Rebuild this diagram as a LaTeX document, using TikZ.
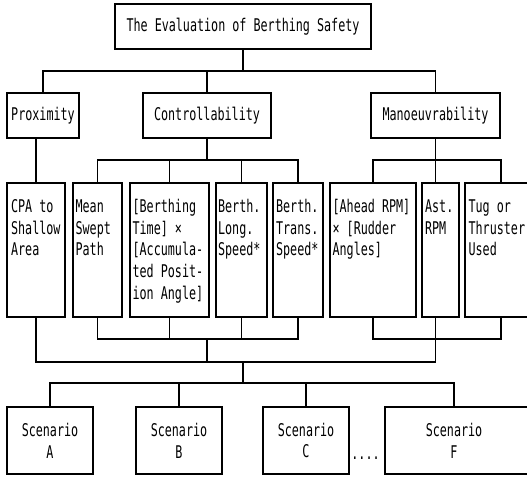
\documentclass[tikz,border=0pt]{standalone}
\usepackage{fontspec}
\newfontfamily\diafont[FakeStretch=0.67]{DejaVu Sans Mono}
\usetikzlibrary{calc}
\begin{document}
\begin{tikzpicture}[x=1pt,y=-1pt,
  every node/.style={font=\diafont\fontsize{17.5}{21.7}\selectfont},
  topbox/.style={draw, line width=1.2pt, inner sep=0pt, minimum height=45pt},
  tallbox/.style={draw, line width=1.2pt, inner sep=0pt, minimum height=134pt},
  scenbox/.style={draw, line width=1.2pt, inner sep=0pt, minimum height=67pt, align=center},
  boxtext/.style={anchor=base west, inner sep=0pt},
  wire/.style={line width=1.2pt}]
\useasboundingbox (0,0) rectangle (527,477);
\clip (0,0) rectangle (527,477);
% top levels
\node[topbox, minimum width=256pt] (title) at (243,26.5) {The Evaluation of Berthing Safety};
\node[topbox, minimum width=72pt] (prox) at (43,115.5) {Proximity};
\node[topbox, minimum width=128pt] (ctrl) at (207,115.5) {Controllability};
\node[topbox, minimum width=129pt] (man) at (435.5,115.5) {Manoeuvrability};
% criteria boxes
\node[tallbox, minimum width=58pt] (cpa) at (36,250) {};
\node[tallbox, minimum width=49pt] (mean) at (97.5,250) {};
\node[tallbox, minimum width=79pt] (bt) at (169.5,250) {};
\node[tallbox, minimum width=51pt] (blong) at (241.5,250) {};
\node[tallbox, minimum width=50pt] (btrans) at (298,250) {};
\node[tallbox, minimum width=86pt] (ahead) at (373,250) {};
\node[tallbox, minimum width=37pt] (ast) at (440.5,250) {};
\node[tallbox, minimum width=72pt] (tug) at (501,250) {};
% criteria texts
\node[boxtext] (cpat) at ($(cpa.north west)+(4.5,30)$) {\begin{tabular}[t]{@{}l@{}}CPA to\\Shallow\\Area\end{tabular}};
\node[boxtext] (meant) at ($(mean.north west)+(3,30)$) {\begin{tabular}[t]{@{}l@{}}Mean\\Swept\\Path\end{tabular}};
\node[boxtext] (btt) at ($(bt.north west)+(3,30)$) {\begin{tabular}[t]{@{}l@{}}[Berthing\\Time] ×\\[0pt][Accumula-\\ted Posit-\\ion Angle]\end{tabular}};
\node[boxtext] (blongt) at ($(blong.north west)+(2.5,30)$) {\begin{tabular}[t]{@{}l@{}}Berth.\\Long.\\Speed*\end{tabular}};
\node[boxtext] (btranst) at ($(btrans.north west)+(3.5,30)$) {\begin{tabular}[t]{@{}l@{}}Berth.\\Trans.\\Speed*\end{tabular}};
\node[boxtext] (aheadt) at ($(ahead.north west)+(3,30)$) {\begin{tabular}[t]{@{}l@{}}[Ahead RPM]\\× [Rudder\\Angles]\end{tabular}};
\node[boxtext] (astt) at ($(ast.north west)+(3.5,30)$) {\begin{tabular}[t]{@{}l@{}}Ast.\\RPM\end{tabular}};
\node[boxtext] (tugt) at ($(tug.north west)+(4,30)$) {\begin{tabular}[t]{@{}l@{}}Tug or\\Thruster\\Used\end{tabular}};
% scenarios
\node[scenbox, minimum width=86pt] (sa) at (50,440.5) {Scenario\\A};
\node[scenbox, minimum width=86pt] (sb) at (179,440.5) {Scenario\\B};
\node[scenbox, minimum width=86pt] (sc) at (306,440.5) {Scenario\\C};
\node[scenbox, minimum width=150pt] (sf) at (460,440.5) {};
\node[align=center, inner sep=0pt] (sft) at (454,440.5) {Scenario\\F};
\node[anchor=base, inner sep=0pt] (dots) at (365.5,459) {....};
% level 1 connectors
\coordinate (b1) at (0,71);
\draw[wire] (title.south) -- (title.south |- b1);
\draw[wire] (prox.north) |- (b1 -| man.north) -- (man.north);
\draw[wire] (ctrl.north) -- (ctrl.north |- b1);
% level 2 connectors
\draw[wire] (prox.south -| cpa.north) -- (cpa.north);
\coordinate (b2) at (0,160);
\draw[wire] (ctrl.south) -- (ctrl.south |- b2);
\draw[wire] (mean.north) |- (b2 -| btrans.north) -- (btrans.north);
\draw[wire] (bt.north) -- (bt.north |- b2);
\draw[wire] (blong.north) -- (blong.north |- b2);
\draw[wire] (man.south) -- (man.south |- ast.north);
\draw[wire] (ahead.north) |- (b2 -| tug.north) -- (tug.north);
% lower connectors
\coordinate (b3) at (0,339);
\coordinate (b4) at (0,362);
\coordinate (b5) at (0,383);
\draw[wire] (mean.south) |- (b3 -| btrans.south) -- (btrans.south);
\draw[wire] (bt.south) -- (bt.south |- b3);
\draw[wire] (blong.south) -- (blong.south |- b3);
\draw[wire] (ctrl.south |- b3) -- (ctrl.south |- b4);
\draw[wire] (ahead.south) |- (b3 -| tug.south) -- (tug.south);
\draw[wire] (man.south |- ast.south) -- (man.south |- b4);
\draw[wire] (cpa.south) |- (b4 -| man.south);
\draw[wire] (title.south |- b4) -- (title.south |- b5);
\draw[wire] (sa.north) |- (b5 -| sft) -- (sf.north -| sft);
\draw[wire] (sb.north) -- (sb.north |- b5);
\draw[wire] (sc.north) -- (sc.north |- b5);
\end{tikzpicture}
\end{document}
